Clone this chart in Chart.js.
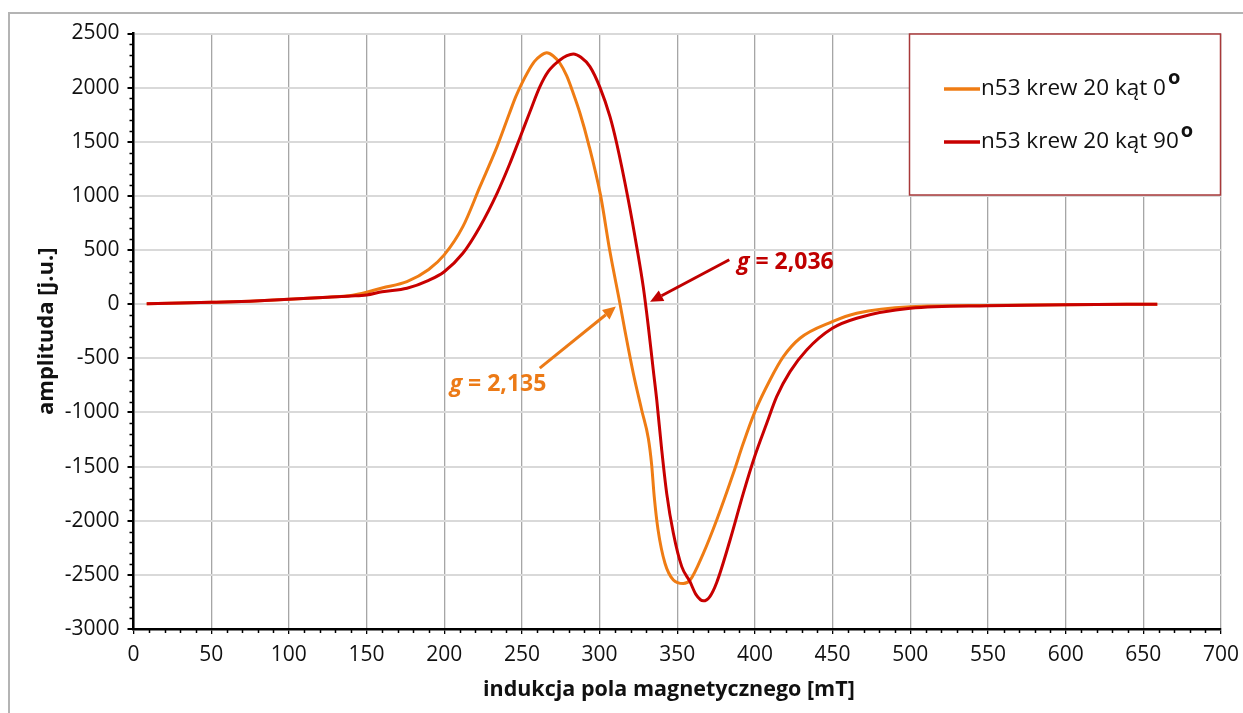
<!DOCTYPE html>
<html>
<head>
<meta charset="utf-8">
<script src="https://cdn.jsdelivr.net/npm/chart.js@4.4.1/dist/chart.umd.min.js"></script>
<style>
  body { margin: 0; background: #fff; overflow: hidden; }
  #wrap { position: relative; width: 1243px; height: 713px; }
  #frame { position: absolute; left: 8px; top: 12px; width: 1300px; height: 800px; border: 2px solid #b4b4b4; box-sizing: border-box; }
  #chartBox { position: absolute; left: 0; top: 0; width: 1243px; height: 713px; }
</style>
</head>
<body>
<div id="wrap">
  <div id="frame"></div>
  <div id="chartBox"><canvas id="myChart"></canvas></div>
</div>
<script>
//*************DATA */
var fieldOrange = [8.5, 30, 50, 75, 100, 125, 140, 150, 160, 176, 190, 200, 212, 223, 234, 242, 246, 250, 254, 258, 262, 266, 270, 274.5, 278.8, 283, 287.4, 292.8, 300.7, 306.5, 313.2, 316.4, 321.7, 327.1, 331.4, 333.5, 335.2, 337.6, 342.1, 347.5, 353.9, 358.2, 366.8, 375.4, 386.1, 392.5, 400, 409.7, 418.3, 429, 449.8, 465.5, 500, 550, 600, 659];
var ampOrange = [5, 10, 17, 28, 45, 65, 80, 110, 150, 208, 320, 455, 716, 1085, 1455, 1763, 1915, 2040, 2150, 2240, 2295, 2322, 2295, 2225, 2110, 1950, 1763, 1486, 1000, 500, 0, -250, -638, -977, -1240, -1480, -1780, -2080, -2393, -2547, -2580, -2550, -2301, -1993, -1562, -1285, -993, -700, -485, -315, -162, -84, -23, -12, -5, 0];

var fieldRed = [8.5, 30, 50, 75, 100, 125, 140, 150, 160, 176, 190, 200, 212, 223, 234, 242, 248.8, 255, 261.6, 267, 274.5, 279, 283.1, 288, 293.8, 300.3, 306.7, 311, 318.5, 323.9, 328.1, 331.4, 334.5, 336.8, 340, 343.2, 347.5, 352.9, 358.2, 362, 366.8, 371, 375.4, 384, 392.5, 400, 407.6, 414, 422.6, 433.3, 449.8, 465.5, 500, 550, 600, 659];
var ampRed = [5, 10, 17, 28, 45, 65, 75, 85, 115, 147, 220, 300, 470, 716, 1024, 1290, 1540, 1770, 2009, 2150, 2255, 2295, 2311, 2280, 2194, 2000, 1732, 1486, 962, 531, 162, -208, -600, -884, -1346, -1747, -2116, -2424, -2563, -2680, -2740, -2700, -2570, -2178, -1747, -1400, -1100, -854, -623, -423, -223, -130, -38, -15, -5, 0];

var seriesNames = ['n53 krew 20 kąt 0', 'n53 krew 20 kąt 90'];
var xMin = 0, xMax = 700, xStep = 50, xMinor = 10;
var yMin = -3000, yMax = 2500, yStep = 500, yMinor = 100;

// annotation arrows, in data units (tail -> head)
var notes = [
  { text: '2,135', color: '#ec7a16', tail: [261.5, -590], head: [310.5, -22], label: [203.5, -737] },
  { text: '2,036', color: '#c00000', tail: [383.5, 410], head: [332.5, 22], label: [388.5, 385] }
];

var ORANGE = '#ef7c14';
var RED = '#c80000';
var FONT = "'Open Sans', sans-serif";

function toPoints(xs, ys) {
  var pts = [];
  for (var i = 0; i < xs.length; i++) {
    pts.push({ x: xs[i], y: ys[i] });
  }
  return pts;
}

//*************minor ticks, legend box and g-value arrows */
var extras = {
  id: 'extras',
  afterDraw: function (chart) {
    var ctx = chart.ctx;
    var xs = chart.scales.x, ys = chart.scales.y;
    var area = chart.chartArea;

    ctx.save();
    ctx.strokeStyle = '#000';
    ctx.lineWidth = 1.5;
    ctx.beginPath();
    for (var v = xMin; v <= xMax; v += xMinor) {
      if (v % xStep === 0) continue;
      var px = Math.round(xs.getPixelForValue(v)) + 0.5;
      ctx.moveTo(px, area.bottom);
      ctx.lineTo(px, area.bottom + 4);
    }
    for (var w = yMin; w <= yMax; w += yMinor) {
      if (w % yStep === 0) continue;
      var py = Math.round(ys.getPixelForValue(w)) + 0.5;
      ctx.moveTo(area.left, py);
      ctx.lineTo(area.left - 4, py);
    }
    ctx.stroke();

    // arrows
    notes.forEach(function (n) {
      var x1 = xs.getPixelForValue(n.tail[0]), y1 = ys.getPixelForValue(n.tail[1]);
      var x2 = xs.getPixelForValue(n.head[0]), y2 = ys.getPixelForValue(n.head[1]);
      var ang = Math.atan2(y2 - y1, x2 - x1);
      var hl = 13, hw = 6;
      ctx.strokeStyle = n.color;
      ctx.fillStyle = n.color;
      ctx.lineWidth = 3;
      ctx.beginPath();
      ctx.moveTo(x1, y1);
      ctx.lineTo(x2 - hl * Math.cos(ang), y2 - hl * Math.sin(ang));
      ctx.stroke();
      ctx.beginPath();
      ctx.moveTo(x2, y2);
      ctx.lineTo(x2 - hl * Math.cos(ang) + hw * Math.sin(ang), y2 - hl * Math.sin(ang) - hw * Math.cos(ang));
      ctx.lineTo(x2 - hl * Math.cos(ang) - hw * Math.sin(ang), y2 - hl * Math.sin(ang) + hw * Math.cos(ang));
      ctx.closePath();
      ctx.fill();

      var lx = xs.getPixelForValue(n.label[0]), ly = ys.getPixelForValue(n.label[1]);
      ctx.textBaseline = 'middle';
      ctx.textAlign = 'left';
      ctx.font = 'italic bold 23px ' + FONT;
      ctx.fillText('g', lx, ly);
      var gw = ctx.measureText('g').width;
      ctx.font = 'bold 23px ' + FONT;
      ctx.fillText(' = ' + n.text, lx + gw, ly);
    });

    // legend box
    var bx = 909.5, by = 34, bw = 311, bh = 161;
    ctx.fillStyle = '#fff';
    ctx.fillRect(bx, by, bw, bh);
    ctx.strokeStyle = '#a8383a';
    ctx.lineWidth = 1.5;
    ctx.strokeRect(bx, by, bw, bh);
    var cols = [ORANGE, RED];
    var rows = [89, 142];
    for (var i = 0; i < seriesNames.length; i++) {
      ctx.strokeStyle = cols[i];
      ctx.lineWidth = 3.5;
      ctx.beginPath();
      ctx.moveTo(944, rows[i]);
      ctx.lineTo(980, rows[i]);
      ctx.stroke();
      ctx.fillStyle = '#111';
      ctx.textBaseline = 'middle';
      ctx.textAlign = 'left';
      ctx.font = '22.5px ' + FONT;
      ctx.fillText(seriesNames[i], 981, rows[i]);
      var tw = ctx.measureText(seriesNames[i]).width;
      ctx.font = 'bold 20px ' + FONT;
      ctx.fillText('o', 981 + tw + 2, rows[i] - 11);
    }
    ctx.restore();
  }
};

//*************CHART */
var ctx = document.getElementById('myChart').getContext('2d');
var chart = new Chart(ctx, {
  type: 'line',
  data: {
    datasets: [{
      label: seriesNames[0],
      data: toPoints(fieldOrange, ampOrange),
      borderColor: ORANGE,
      backgroundColor: ORANGE,
      borderWidth: 3,
      pointRadius: 0,
      cubicInterpolationMode: 'monotone',
      order: 2
    }, {
      label: seriesNames[1],
      data: toPoints(fieldRed, ampRed),
      borderColor: RED,
      backgroundColor: RED,
      borderWidth: 3,
      pointRadius: 0,
      cubicInterpolationMode: 'monotone',
      order: 1
    }]
  },
  options: {
    responsive: true,
    maintainAspectRatio: false,
    animation: false,
    layout: { padding: { left: 13.5, top: 33.5, right: 22, bottom: 0 } },
    plugins: {
      legend: { display: false },
      tooltip: { enabled: false }
    },
    scales: {
      x: {
        type: 'linear',
        min: xMin,
        max: xMax,
        ticks: { stepSize: xStep, color: '#111', padding: 8, maxRotation: 0, font: { family: FONT, size: 21 },
                 callback: function (v) { return String(v); } },
        grid: { color: '#a6a6a6', lineWidth: 1.3, tickColor: '#000', tickLength: 5 },
        border: { color: '#000', width: 2.5 },
        title: { display: true, text: 'indukcja pola magnetycznego [mT]   ', color: '#111', padding: { top: 0, bottom: 10 }, font: { family: FONT, size: 21.5, weight: 'bold' } },
        afterFit: function (scale) { scale.height = 84; scale.paddingLeft = 0; scale.paddingRight = 0; }
      },
      y: {
        min: yMin,
        max: yMax,
        ticks: { stepSize: yStep, color: '#111', padding: 8, font: { family: FONT, size: 21 },
                 callback: function (v) { return String(v); } },
        grid: { color: '#d9d9d9', lineWidth: 2, tickColor: '#000', tickLength: 6 },
        border: { color: '#000', width: 2.5 },
        title: { display: true, text: 'amplituda [j.u.]', color: '#111', padding: { top: 20, bottom: 0 }, font: { family: FONT, size: 22, weight: 'bold' } },
        afterFit: function (scale) { scale.width = 120; }
      }
    }
  },
  plugins: [extras]
});
</script>
</body>
</html>
